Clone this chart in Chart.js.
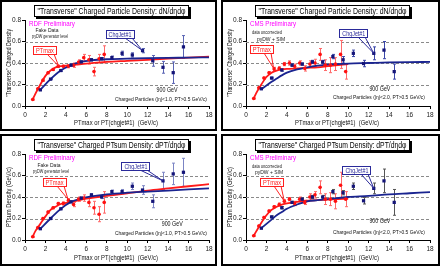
<!DOCTYPE html>
<html>
<head>
<title>Transverse densities</title>
<script src="https://cdn.jsdelivr.net/npm/chart.js"></script>
<style>
  body { margin: 0; background: #fff; }
  .panel { position: absolute; border: 2px solid #000; box-sizing: border-box; background: #fff; }
  canvas { display: block; }
</style>
</head>
<body>
<div class="panel" style="left:0;top:0;width:217px;height:131px"><canvas id="c1" width="213" height="127"></canvas></div>
<div class="panel" style="left:221px;top:0;width:219px;height:131px"><canvas id="c2" width="215" height="127"></canvas></div>
<div class="panel" style="left:0;top:134px;width:217px;height:132px"><canvas id="c3" width="213" height="128"></canvas></div>
<div class="panel" style="left:221px;top:134px;width:219px;height:132px"><canvas id="c4" width="215" height="128"></canvas></div>

<script>
// tick values
const xTickVals = [0, 2, 4, 6, 8, 10, 12, 14, 16, 18];
const yTickVals = [0.0, 0.2, 0.4, 0.6, 0.8];

// x positions of the points
const redX15 = [0.75, 1.25, 1.75, 2.25, 2.75, 3.25, 3.75, 4.25, 4.75, 5.25, 5.75, 6.25, 6.75, 7.25, 7.75];
const redX19 = [0.75, 1.25, 1.75, 2.25, 2.75, 3.25, 3.75, 4.25, 4.75, 5.25, 5.75, 6.25, 6.75, 7.25, 7.75, 8.25, 8.75, 9.25, 9.75];
const blueX15 = [1.5, 2.5, 3.5, 4.5, 5.5, 6.5, 7.5, 8.5, 9.5, 10.5, 11.5, 12.5, 13.5, 14.5, 15.5];
const blueX14 = [1.5, 2.5, 3.5, 4.5, 5.5, 6.5, 7.5, 8.5, 9.5, 10.5, 11.5, 12.5, 13.5, 14.5];

// panel 1: RDF dN/deta dphi
const p1RedY   = [0.06, 0.16, 0.24, 0.31, 0.34, 0.37, 0.37, 0.37, 0.38, 0.41, 0.45, 0.43, 0.32, 0.44, 0.48];
const p1RedErr = [0.005, 0.01, 0.01, 0.01, 0.01, 0.01, 0.01, 0.015, 0.02, 0.02, 0.03, 0.04, 0.04, 0.04, 0.08];
const p1BlueY   = [0.15, 0.25, 0.33, 0.38, 0.41, 0.43, 0.44, 0.45, 0.49, 0.475, 0.515, 0.42, 0.36, 0.31, 0.55];
const p1BlueErr = [0.005, 0.005, 0.008, 0.01, 0.01, 0.01, 0.01, 0.015, 0.02, 0.02, 0.02, 0.05, 0.055, 0.1, 0.105];
const p1RedFitX = [0.75, 1, 1.5, 2, 2.5, 3, 3.5, 4, 5, 6, 8, 10, 12, 14, 16, 18];
const p1RedFitY = [0.06, 0.11, 0.2, 0.28, 0.33, 0.36, 0.37, 0.375, 0.385, 0.395, 0.41, 0.42, 0.43, 0.44, 0.45, 0.46];
const p1BlueFitX = [1.5, 2.5, 3.5, 4.5, 5.5, 6.5, 8, 10, 12, 14, 16, 18];
const p1BlueFitY = [0.15, 0.25, 0.33, 0.38, 0.41, 0.425, 0.435, 0.44, 0.445, 0.448, 0.45, 0.453];

// panel 2: CMS dN/deta dphi
const p2RedY   = [0.07, 0.17, 0.26, 0.31, 0.345, 0.35, 0.39, 0.40, 0.37, 0.40, 0.35, 0.39, 0.40, 0.48, 0.38, 0.38, 0.39, 0.48, 0.32];
const p2RedErr = [0.005, 0.01, 0.01, 0.01, 0.015, 0.015, 0.015, 0.02, 0.02, 0.02, 0.025, 0.03, 0.035, 0.055, 0.05, 0.07, 0.06, 0.13, 0.07];
const p2BlueY   = [0.16, 0.26, 0.335, 0.38, 0.39, 0.41, 0.41, 0.46, 0.43, 0.49, 0.395, 0.49, 0.52, 0.32];
const p2BlueErr = [0.005, 0.008, 0.01, 0.01, 0.01, 0.015, 0.015, 0.02, 0.03, 0.03, 0.03, 0.06, 0.08, 0.07];
const p2RedFitX = [0.75, 1, 1.5, 2, 2.5, 3, 3.5, 4, 5, 6, 7, 8, 9, 10];
const p2RedFitY = [0.07, 0.12, 0.2, 0.27, 0.31, 0.33, 0.34, 0.345, 0.35, 0.355, 0.36, 0.37, 0.38, 0.39];
const p2BlueFitX = [1.5, 2, 2.5, 3, 3.5, 4, 5, 6, 7, 8, 10, 12, 14, 16, 18];
const p2BlueFitY = [0.155, 0.19, 0.225, 0.255, 0.285, 0.31, 0.34, 0.36, 0.375, 0.385, 0.395, 0.40, 0.405, 0.408, 0.41];

// panel 3: RDF PTsum density
const p3RedY   = [0.03, 0.115, 0.2, 0.26, 0.30, 0.34, 0.34, 0.37, 0.33, 0.38, 0.39, 0.35, 0.30, 0.24, 0.35];
const p3RedErr = [0.005, 0.01, 0.01, 0.01, 0.01, 0.01, 0.015, 0.015, 0.02, 0.02, 0.03, 0.04, 0.06, 0.07, 0.1];
const p3BlueY   = [0.105, 0.2, 0.29, 0.355, 0.39, 0.42, 0.40, 0.45, 0.45, 0.50, 0.465, 0.36, 0.55, 0.615, 0.63];
const p3BlueErr = [0.005, 0.005, 0.008, 0.01, 0.01, 0.01, 0.015, 0.015, 0.02, 0.03, 0.04, 0.06, 0.08, 0.1, 0.13];
const p3RedFitX = [0.75, 1, 1.5, 2, 2.5, 3, 3.5, 4, 5, 6, 8, 10, 12, 14, 16, 18];
const p3RedFitY = [0.03, 0.08, 0.15, 0.22, 0.28, 0.31, 0.335, 0.345, 0.365, 0.385, 0.41, 0.435, 0.46, 0.48, 0.50, 0.52];
const p3BlueFitX = [1.5, 2.5, 3.5, 4.5, 5.5, 6.5, 8, 10, 12, 14, 16, 18];
const p3BlueFitY = [0.105, 0.2, 0.29, 0.355, 0.385, 0.405, 0.425, 0.44, 0.45, 0.46, 0.47, 0.48];

// panel 4: CMS PTsum density
const p4RedY   = [0.04, 0.13, 0.21, 0.27, 0.31, 0.33, 0.36, 0.38, 0.34, 0.38, 0.35, 0.40, 0.42, 0.49, 0.38, 0.38, 0.36, 0.51, 0.38];
const p4RedErr = [0.005, 0.01, 0.01, 0.01, 0.01, 0.015, 0.015, 0.015, 0.02, 0.02, 0.02, 0.03, 0.03, 0.06, 0.05, 0.06, 0.07, 0.12, 0.07];
const p4BlueY   = [0.11, 0.215, 0.30, 0.35, 0.38, 0.40, 0.40, 0.45, 0.44, 0.50, 0.365, 0.48, 0.55, 0.35];
const p4BlueErr = [0.005, 0.008, 0.01, 0.01, 0.01, 0.015, 0.015, 0.02, 0.02, 0.03, 0.03, 0.05, 0.11, 0.12];
const p4RedFitX = [0.75, 1, 1.5, 2, 2.5, 3, 3.5, 4, 5, 6, 7, 8, 9, 10];
const p4RedFitY = [0.04, 0.08, 0.16, 0.23, 0.28, 0.31, 0.33, 0.34, 0.355, 0.365, 0.37, 0.375, 0.38, 0.385];
const p4BlueFitX = [1.5, 2, 2.5, 3, 3.5, 4, 5, 6, 7, 8, 10, 12, 14, 16, 18];
const p4BlueFitY = [0.11, 0.15, 0.19, 0.23, 0.26, 0.29, 0.33, 0.36, 0.37, 0.38, 0.40, 0.41, 0.425, 0.435, 0.445];

const FONT = '"Liberation Sans", Arial, sans-serif';

const panels = {
  c1: {
    redX: redX15, redY: p1RedY, redErr: p1RedErr, blueX: blueX15, blueY: p1BlueY, blueErr: p1BlueErr,
    redFitX: p1RedFitX, redFitY: p1RedFitY, blueFitX: p1BlueFitX, blueFitY: p1BlueFitY,
    title: '"Transverse" Charged Particle Density: dN/dηdφ', yTitle: '"Transverse" Charged Density', yTitleW: 68,
    lab: 'RDF Preliminary', note1: 'Fake Data', note2: 'pyDW generator level', note1At: [2.15, 0.70], note2At: [2.45, 0.645],
    ptBox: [1.9, 0.525], ptTo: [3.3, 0.37], jetBox: [9.25, 0.67], jetTo: [11.5, 0.515],
    gevAt: [13.9, 0.15], cuts: 'Charged Particles (|η|<1.0, PT>0.5 GeV/c)', cutsAt: [17.8, 0.065],
    blueErrColor: '#5a64b4'
  },
  c2: {
    redX: redX19, redY: p2RedY, redErr: p2RedErr, blueX: blueX14, blueY: p2BlueY, blueErr: p2BlueErr,
    redFitX: p2RedFitX, redFitY: p2RedFitY, blueFitX: p2BlueFitX, blueFitY: p2BlueFitY,
    title: '"Transverse" Charged Particle Density: dN/dηdφ', yTitle: '"Transverse" Charged Density', yTitleW: 68,
    lab: 'CMS Preliminary', note1: 'data uncorrected', note2: 'pyDW + SIM', note1At: [2.05, 0.68], note2At: [2.45, 0.62],
    ptBox: [1.5, 0.53], ptTo: [2.7, 0.35], jetBox: [10.5, 0.675], jetTo: [12.5, 0.49],
    gevAt: [13.1, 0.158], cuts: 'Charged Particles (|η|<2.0, PT>0.5 GeV/c)', cutsAt: [17.5, 0.084],
    blueErrColor: '#3a46a8'
  },
  c3: {
    redX: redX15, redY: p3RedY, redErr: p3RedErr, blueX: blueX15, blueY: p3BlueY, blueErr: p3BlueErr,
    redFitX: p3RedFitX, redFitY: p3RedFitY, blueFitX: p3BlueFitX, blueFitY: p3BlueFitY,
    title: '"Transverse" Charged PTsum Density: dPT/dηdφ', yTitle: 'PTsum Density (GeV/c)', yTitleW: 60,
    lab: 'RDF Preliminary', note1: 'Fake Data', note2: 'pyDW generator level', note1At: [2.35, 0.69], note2At: [2.55, 0.64],
    ptBox: [2.84, 0.535], ptTo: [4.2, 0.38], jetBox: [10.8, 0.69], jetTo: [13.5, 0.55],
    gevAt: [14.4, 0.15], cuts: 'Charged Particles (|η|<1.0, PT>0.5 GeV/c)', cutsAt: [17.8, 0.065],
    blueErrColor: '#7b84c4'
  },
  c4: {
    redX: redX19, redY: p4RedY, redErr: p4RedErr, blueX: blueX14, blueY: p4BlueY, blueErr: p4BlueErr,
    redFitX: p4RedFitX, redFitY: p4RedFitY, blueFitX: p4BlueFitX, blueFitY: p4BlueFitY,
    title: '"Transverse" Charged PTsum Density: dPT/dηdφ', yTitle: 'PTsum Density (GeV/c)', yTitleW: 60,
    lab: 'CMS Preliminary', note1: 'data uncorrected', note2: 'pyDW + SIM', note1At: [2.05, 0.68], note2At: [2.25, 0.63],
    ptBox: [2.5, 0.535], ptTo: [3.75, 0.36], jetBox: [10.8, 0.655], jetTo: [12.5, 0.48],
    gevAt: [13.1, 0.18], cuts: 'Charged Particles (|η|<2.0, PT>0.5 GeV/c)', cutsAt: [17.5, 0.075],
    blueErrColor: '#555'
  }
};

function zip(xs, ys) {
  return xs.map((x, i) => ({ x: x, y: ys[i] }));
}

function txt(ctx, s, x, y, size, color, align, maxW) {
  ctx.font = size + 'px ' + FONT;
  ctx.fillStyle = color;
  ctx.textAlign = align || 'center';
  ctx.textBaseline = 'middle';
  if (maxW) ctx.fillText(s, x, y, maxW); else ctx.fillText(s, x, y);
}

function callout(ctx, xs, ys, box, to, w, h, label, color, labelW) {
  const cx = xs.getPixelForValue(box[0]), cy = ys.getPixelForValue(box[1]);
  const tx = xs.getPixelForValue(to[0]), ty = ys.getPixelForValue(to[1]);
  const l = Math.round(cx - w / 2), t = Math.round(cy - h / 2);
  ctx.save();
  ctx.strokeStyle = color;
  ctx.lineWidth = 1;
  ctx.beginPath();
  ctx.moveTo(l + w - 9, t + h);
  ctx.lineTo(tx, ty);
  ctx.lineTo(l + w - 2, t + h);
  ctx.stroke();
  ctx.fillStyle = '#fff';
  ctx.fillRect(l, t, w, h);
  ctx.strokeRect(l + 0.5, t + 0.5, w, h);
  txt(ctx, label, cx + 0.5, t + h / 2 + 1, 6.5, color, 'center', labelW);
  ctx.restore();
}

const extras = {
  id: 'extras',
  beforeDatasetsDraw(chart) {
    const p = panels[chart.canvas.id];
    const ctx = chart.ctx, xs = chart.scales.x, ys = chart.scales.y, a = chart.chartArea;
    ctx.save();
    // dashed gridlines
    ctx.strokeStyle = '#8a8a8a';
    ctx.lineWidth = 1;
    ctx.setLineDash([3, 2]);
    [0.2, 0.4, 0.6].forEach(v => {
      const y = Math.round(ys.getPixelForValue(v)) + 0.5;
      ctx.beginPath();
      ctx.moveTo(a.left, y);
      ctx.lineTo(a.right, y);
      ctx.stroke();
    });
    ctx.setLineDash([]);
    // error bars
    const bars = (xv, yv, ev, color) => {
      ctx.strokeStyle = color;
      xv.forEach((x, i) => {
        const px = Math.round(xs.getPixelForValue(x)) + 0.5;
        const y1 = ys.getPixelForValue(yv[i] + ev[i]);
        const y2 = ys.getPixelForValue(yv[i] - ev[i]);
        ctx.beginPath();
        ctx.moveTo(px, y1); ctx.lineTo(px, y2);
        ctx.moveTo(px - 1.5, y1); ctx.lineTo(px + 1.5, y1);
        ctx.moveTo(px - 1.5, y2); ctx.lineTo(px + 1.5, y2);
        ctx.stroke();
      });
    };
    bars(p.redX, p.redY, p.redErr, '#ff6a6a');
    bars(p.blueX, p.blueY, p.blueErr, p.blueErrColor);
    ctx.restore();
  },
  afterDraw(chart) {
    const p = panels[chart.canvas.id];
    const ctx = chart.ctx, xs = chart.scales.x, ys = chart.scales.y, a = chart.chartArea;
    ctx.save();
    // title box
    const bw = 155, bh = 12;
    const bx = Math.round((a.left + a.right) / 2 - 6 - bw / 2), by = 3;
    ctx.fillStyle = '#000';
    ctx.fillRect(bx + 2, by + 2, bw, bh);
    ctx.fillStyle = '#fff';
    ctx.fillRect(bx, by, bw, bh);
    ctx.strokeStyle = '#000';
    ctx.strokeRect(bx + 0.5, by + 0.5, bw - 1, bh - 1);
    txt(ctx, p.title, bx + bw / 2, by + bh / 2 + 0.5, 8.5, '#000', 'center', bw - 7);
    // axis titles
    txt(ctx, 'PTmax or PT(chgjet#1)  (GeV/c)', (a.left + a.right) / 2 - 1, chart.height - 6.5, 7.5, '#111', 'center', 84);
    ctx.save();
    ctx.translate(6.5, (a.top + a.bottom) / 2);
    ctx.rotate(-Math.PI / 2);
    txt(ctx, p.yTitle, 0, 0, 7.5, '#111', 'center', p.yTitleW);
    ctx.restore();
    // labels
    txt(ctx, p.lab, xs.getPixelForValue(0) + 4, ys.getPixelForValue(0.76), 7.5, '#ff00ff', 'left', 46);
    txt(ctx, p.note1, xs.getPixelForValue(p.note1At[0]), ys.getPixelForValue(p.note1At[1]), 5, '#222', 'center', 30);
    txt(ctx, p.note2, xs.getPixelForValue(p.note2At[0]), ys.getPixelForValue(p.note2At[1]), 5, '#222', 'center', 36);
    txt(ctx, '900 GeV', xs.getPixelForValue(p.gevAt[0]), ys.getPixelForValue(p.gevAt[1]), 7, '#111', 'center', 21);
    txt(ctx, p.cuts, xs.getPixelForValue(p.cutsAt[0]), ys.getPixelForValue(p.cutsAt[1]), 6, '#111', 'right', 92);
    // callouts
    callout(ctx, xs, ys, p.ptBox, p.ptTo, 23, 8, 'PTmax', '#ff2020', 18);
    callout(ctx, xs, ys, p.jetBox, p.jetTo, 28, 8, 'ChgJet#1', '#2a2a9a', 23);
    ctx.restore();
  }
};

function makeChart(id) {
  const p = panels[id];
  const canvas = document.getElementById(id);
  const H = canvas.height, W = canvas.width;
  new Chart(canvas, {
    type: 'scatter',
    data: {
      datasets: [
        { data: zip(p.blueX, p.blueY), pointStyle: 'rect', pointRadius: 2.3, backgroundColor: '#141478', borderWidth: 0, showLine: false },
        { data: zip(p.redX, p.redY), pointStyle: 'circle', pointRadius: 1.8, backgroundColor: '#ff1010', borderWidth: 0, showLine: false },
        { data: zip(p.blueFitX, p.blueFitY), showLine: true, borderColor: '#1a2490', borderWidth: 1.8, pointRadius: 0, cubicInterpolationMode: 'monotone' },
        { data: zip(p.redFitX, p.redFitY), showLine: true, borderColor: '#ff1a1a', borderWidth: 1.8, pointRadius: 0, cubicInterpolationMode: 'monotone' }
      ]
    },
    options: {
      responsive: false,
      animation: false,
      events: [],
      layout: { padding: { left: 0, top: 18, right: W - 207, bottom: 0 } },
      plugins: { legend: { display: false }, tooltip: { enabled: false } },
      scales: {
        x: {
          type: 'linear', min: 0, max: 18,
          afterBuildTicks: s => { s.ticks = xTickVals.map(v => ({ value: v })); },
          afterFit: s => { s.height = H - 104; },
          ticks: { font: { size: 6.5, family: FONT }, color: '#222', padding: 2, maxRotation: 0 },
          grid: { drawOnChartArea: false, tickLength: 3, tickColor: '#000' },
          border: { color: '#000', width: 1 }
        },
        y: {
          type: 'linear', min: 0, max: 0.8,
          afterBuildTicks: s => { s.ticks = yTickVals.map(v => ({ value: v })); },
          afterFit: s => { s.width = 23; },
          ticks: { font: { size: 6.5, family: FONT }, color: '#222', padding: 1, callback: v => v.toFixed(1) },
          grid: { drawOnChartArea: false, tickLength: 3, tickColor: '#000' },
          border: { color: '#000', width: 1 }
        }
      }
    },
    plugins: [extras]
  });
}

['c1', 'c2', 'c3', 'c4'].forEach(makeChart);
</script>
</body>
</html>
